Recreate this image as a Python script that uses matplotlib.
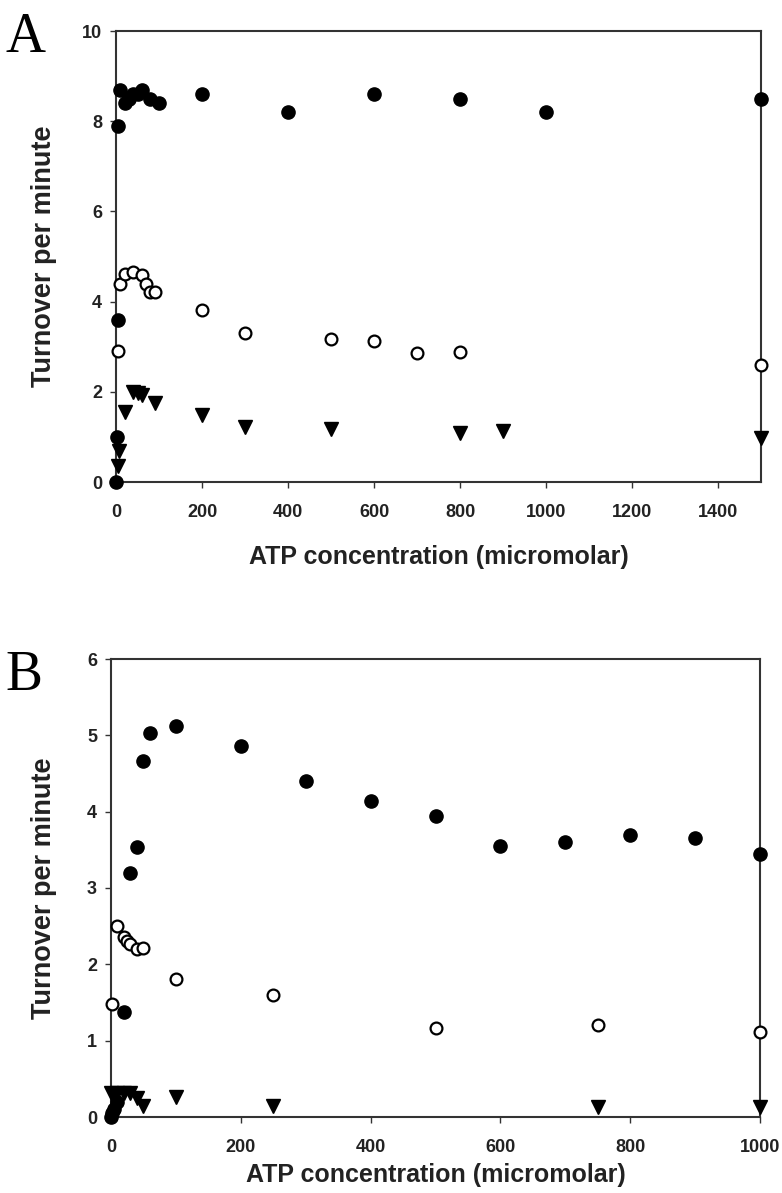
import matplotlib
matplotlib.use("Agg")
import matplotlib.pyplot as plt

# ------------------------------------------------------------------
# Panel A values
# ------------------------------------------------------------------
a_filled_x = [0, 2, 4, 5, 10, 20, 30, 40, 50, 60, 80, 100, 200, 400, 600, 800, 1000, 1500]
a_filled_y = [0.0, 1.0, 3.6, 7.9, 8.7, 8.4, 8.5, 8.6, 8.6, 8.7, 8.5, 8.4, 8.6, 8.2, 8.6, 8.5, 8.2, 8.5]

a_open_x = [5, 10, 20, 40, 60, 70, 80, 90, 200, 300, 500, 600, 700, 800, 1500]
a_open_y = [2.9, 4.4, 4.62, 4.66, 4.6, 4.38, 4.22, 4.22, 3.82, 3.3, 3.16, 3.12, 2.85, 2.88, 2.6]

a_tri_x = [4, 8, 20, 40, 50, 60, 90, 200, 300, 500, 800, 900, 1500]
a_tri_y = [0.35, 0.68, 1.55, 2.0, 1.98, 1.92, 1.75, 1.48, 1.22, 1.18, 1.08, 1.12, 0.98]

a_xticks = [0, 200, 400, 600, 800, 1000, 1200, 1400]
a_yticks = [0, 2, 4, 6, 8, 10]

# ------------------------------------------------------------------
# Panel B values
# ------------------------------------------------------------------
b_filled_x = [0, 2, 5, 10, 20, 30, 40, 50, 60, 100, 200, 300, 400, 500, 600, 700, 800, 900, 1000]
b_filled_y = [0.0, 0.05, 0.1, 0.2, 1.37, 3.2, 3.54, 4.66, 5.03, 5.12, 4.86, 4.4, 4.14, 3.94, 3.55, 3.6, 3.69, 3.65, 3.44]

b_open_x = [2, 10, 20, 25, 30, 40, 50, 100, 250, 500, 750, 1000]
b_open_y = [1.48, 2.5, 2.36, 2.3, 2.26, 2.2, 2.22, 1.81, 1.6, 1.17, 1.21, 1.12]

b_tri_x = [0, 5, 10, 20, 30, 40, 50, 100, 250, 750, 1000]
b_tri_y = [0.32, 0.3, 0.32, 0.32, 0.32, 0.25, 0.14, 0.26, 0.15, 0.13, 0.13]

b_xticks = [0, 200, 400, 600, 800, 1000]
b_yticks = [0, 1, 2, 3, 4, 5, 6]

XLABEL = "ATP concentration (micromolar)"
YLABEL = "Turnover per minute"

plt.rcParams["font.family"] = ["Liberation Sans", "DejaVu Sans"]
plt.rcParams["font.weight"] = "bold"


def draw_panel(ax, fx, fy, ox, oy, tx, ty, xticks, yticks, xlim, ylim,
               xlab_y, ylab_x):
    ax.plot(fx, fy, "o", color="black", markersize=9.5, clip_on=False, zorder=3)
    ax.plot(ox, oy, "o", markerfacecolor="white", markeredgecolor="black",
            markeredgewidth=1.6, markersize=8.5, clip_on=False, zorder=3)
    ax.plot(tx, ty, "v", color="black", markersize=9.5, clip_on=False, zorder=3)

    ax.set_xlim(*xlim)
    ax.set_ylim(*ylim)
    ax.set_xticks(xticks)
    ax.set_yticks(yticks)
    ax.tick_params(direction="out", length=4, width=1, labelsize=13,
                   color="#333333")
    ax.tick_params(axis="x", pad=12)
    ax.tick_params(axis="y", pad=6)
    for lab in ax.get_xticklabels() + ax.get_yticklabels():
        lab.set_fontweight("bold")
        lab.set_color("#222222")
    for sp in ax.spines.values():
        sp.set_linewidth(1.5)
        sp.set_color("#333333")
    ax.set_xlabel(XLABEL, fontsize=18, fontweight="bold", color="#222222")
    ax.set_ylabel(YLABEL, fontsize=19.5, fontweight="bold", color="#222222")
    ax.xaxis.set_label_coords(0.5, xlab_y)
    ax.xaxis.label.set_va("center")
    ax.yaxis.set_label_coords(ylab_x, 0.5)
    ax.yaxis.label.set_va("center")


fig = plt.figure(figsize=(7.82, 11.93), dpi=100)

ax_a = fig.add_axes([116 / 782, 1 - 482 / 1193, 645 / 782, 451 / 1193])
draw_panel(ax_a, a_filled_x, a_filled_y, a_open_x, a_open_y, a_tri_x, a_tri_y,
           a_xticks, a_yticks, (0, 1500), (0, 10),
           xlab_y=-75 / 451, ylab_x=(44 - 116) / 645)

ax_b = fig.add_axes([111 / 782, 1 - 1117 / 1193, 649 / 782, 458 / 1193])
draw_panel(ax_b, b_filled_x, b_filled_y, b_open_x, b_open_y, b_tri_x, b_tri_y,
           b_xticks, b_yticks, (0, 1000), (0, 6),
           xlab_y=-58 / 458, ylab_x=(44 - 111) / 649)

fig.text(5 / 782, 1 - 52 / 1193, "A", family="Liberation Serif", fontsize=40,
         fontweight="normal")
fig.text(5 / 782, 1 - 690 / 1193, "B", family="Liberation Serif", fontsize=40,
         fontweight="normal")

fig.savefig("out.png", dpi=100)
